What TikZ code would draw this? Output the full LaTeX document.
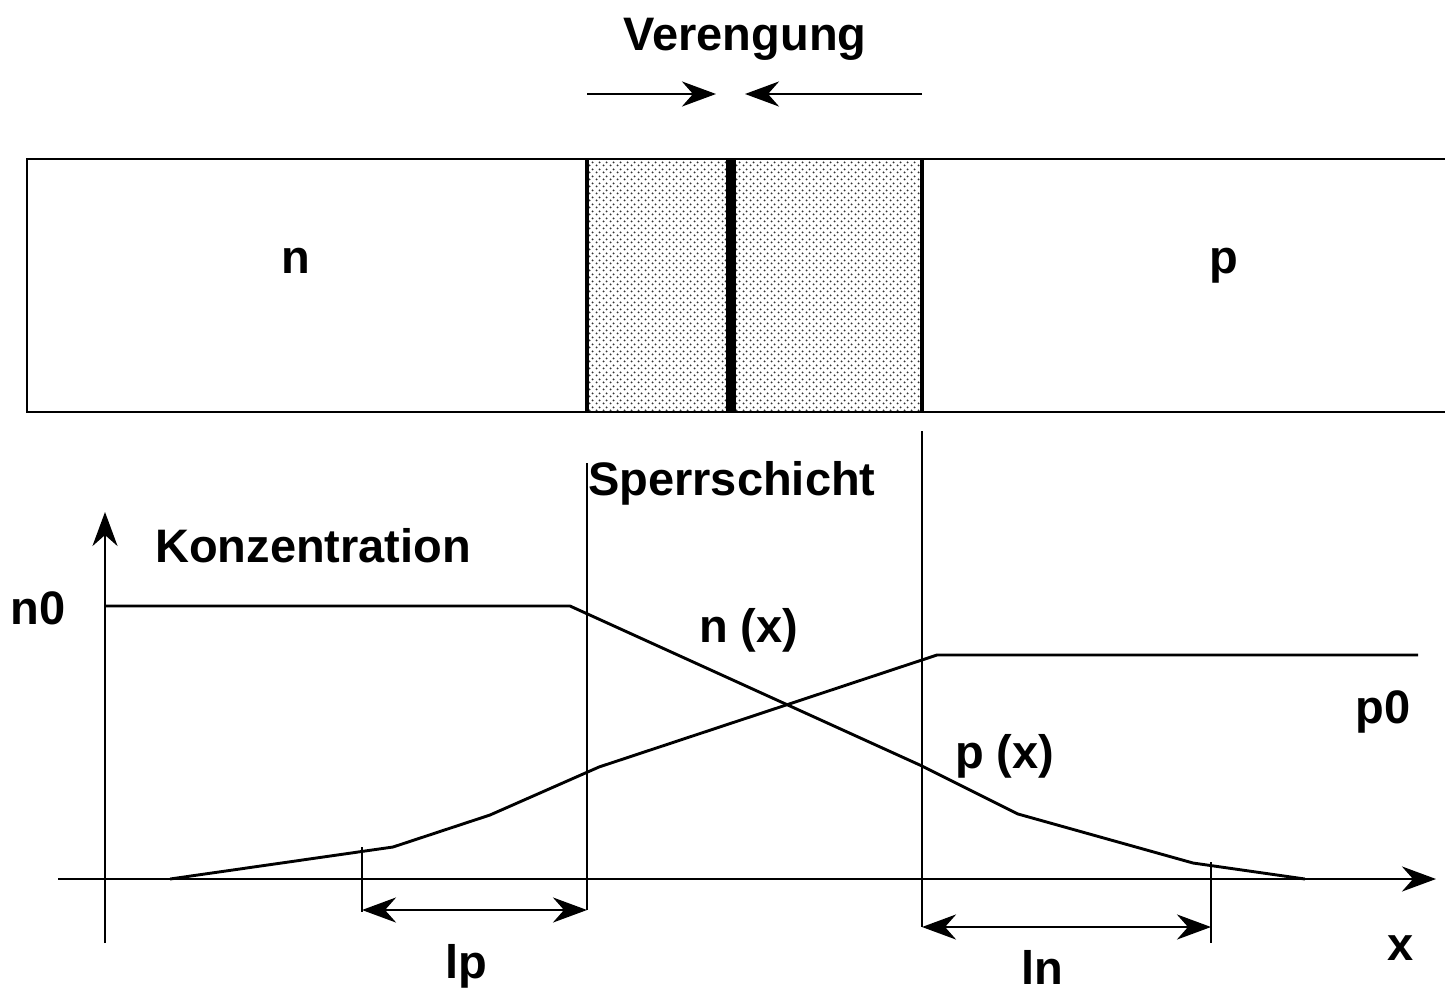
\documentclass[tikz,border=0pt]{standalone}
\usepackage{fontspec}
\setmainfont{Liberation Sans}
\usetikzlibrary{arrows.meta,patterns.meta}
\pgfdeclarepattern{
  name=dotgrid,
  type=uncolored,
  bottom left={\pgfpoint{0pt}{0pt}},
  top right={\pgfpoint{7pt}{7pt}},
  tile size={\pgfpoint{7pt}{7pt}},
  code={
    \pgfpathcircle{\pgfpoint{1.75pt}{1.75pt}}{1.15pt}
    \pgfpathcircle{\pgfpoint{5.25pt}{5.25pt}}{1.15pt}
    \pgfusepath{fill}
  }
}
\tikzset{
  ln/.style={line width=2.9pt},
  tip/.tip={Stealth[length=34pt,width=25pt,inset=11pt]},
  arr/.style={ln,-tip},
  darr/.style={ln,tip-tip},
  lbl/.style={inner sep=0pt,font=\fontsize{47}{52}\selectfont\bfseries},
}
\begin{document}
\begin{tikzpicture}[x=1pt,y=-1pt,line join=miter]
\useasboundingbox (0,0) rectangle (1445,993);
% top bar
\fill[pattern={dotgrid},pattern color=black!80] (587,159) rectangle (922,412);
\draw[ln] (1445,159) -- (27,159) -- (27,412) -- (1445,412);
\draw[line width=3.8pt] (587,159) -- (587,412);
\draw[line width=3.8pt] (922,159) -- (922,412);
\fill (725.5,159) rectangle (735.5,412);
\node[lbl,anchor=base] (n) at (296,273) {n};
\node[lbl,anchor=base] (p) at (1224,273) {p};
% Verengung
\node[lbl,anchor=base] (ver) at (745,50) {Verengung};
\coordinate (va1) at (587,94);
\coordinate (va2) at (716,94);
\coordinate (vb1) at (922,94);
\coordinate (vb2) at (745,94);
\draw[arr] (va1) -- (va2);
\draw[arr] (vb1) -- (vb2);
% boundaries
\coordinate (bl1) at (587,463);
\coordinate (bl2) at (587,910);
\coordinate (br1) at (922,431);
\coordinate (br2) at (922,927);
\draw[ln] (bl1) -- (bl2);
\draw[ln] (br1) -- (br2);
\node[lbl,anchor=base west] (sp) at (588,495) {Sperrschicht};
% axes
\coordinate (ya) at (105,943);
\coordinate (yb) at (105,512);
\coordinate (xa) at (58,879);
\coordinate (xb) at (1436,879);
\draw[arr] (ya) -- (yb);
\draw[arr] (xa) -- (xb);
\node[lbl,anchor=base west] (konz) at (155,562) {Konzentration};
\node[lbl,anchor=base east] (n0) at (66,624) {n0};
\node[lbl,anchor=base east] (p0) at (1411,723) {p0};
\node[lbl,anchor=base] (xl) at (1401,960) {x};
% n(x)
\draw[ln] (105,606) -- (570,606) -- (922,766) -- (1018,814) -- (1193,863) -- (1305,879);
\node[lbl,anchor=base west] (nx) at (699,642) {n (x)};
% p(x)
\draw[ln] (170,879) -- (393,847) -- (490,815) -- (599,767) -- (937,655) -- (1418,655);
\node[lbl,anchor=base west] (px) at (955,768) {p (x)};
% lp, ln
\coordinate (t1a) at (362,847);
\coordinate (t1b) at (362,912);
\coordinate (t2a) at (1211,862);
\coordinate (t2b) at (1211,943);
\draw[ln] (t1a) -- (t1b);
\draw[ln] (t2a) -- (t2b);
\coordinate (lpa) at (362,910);
\coordinate (lpb) at (587,910);
\coordinate (lna) at (922,927);
\coordinate (lnb) at (1211,927);
\draw[darr] (lpa) -- (lpb);
\draw[darr] (lna) -- (lnb);
\node[lbl,anchor=base west] (lp) at (445,978) {lp};
\node[lbl,anchor=base west] (lnl) at (1021,984) {ln};
\end{tikzpicture}
\end{document}
